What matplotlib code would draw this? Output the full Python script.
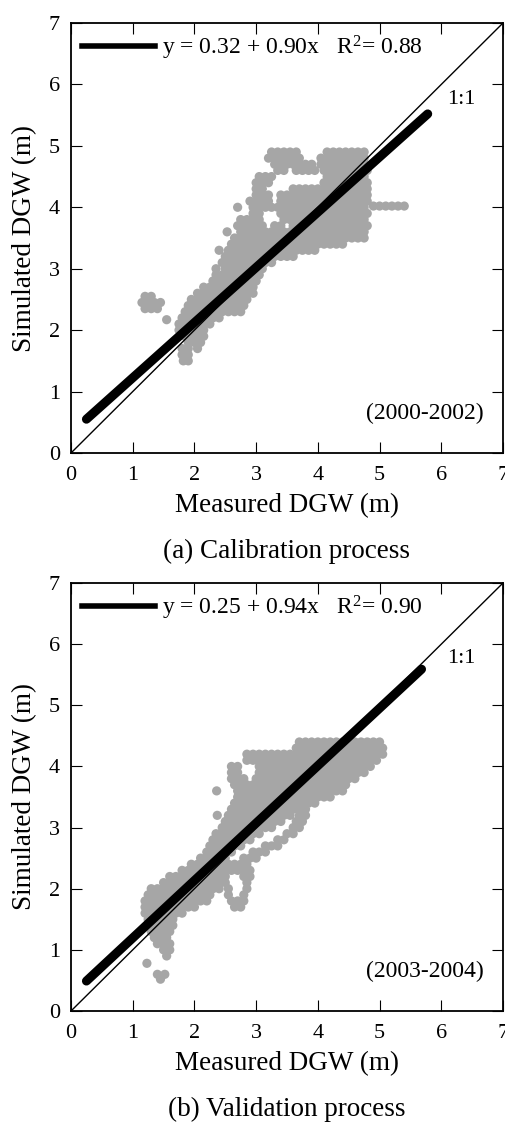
"""Simulated vs measured DGW, calibration (a) and validation (b)."""

import matplotlib
matplotlib.use("Agg")
import matplotlib.pyplot as plt
from matplotlib.lines import Line2D

plt.rcParams['font.family'] = ['Liberation Serif', 'DejaVu Serif']
plt.rcParams['mathtext.fontset'] = 'custom'
plt.rcParams['mathtext.rm'] = 'Liberation Serif'
plt.rcParams['mathtext.it'] = 'Liberation Serif:italic'

# ---- panel (a): calibration 2000-2002, rows of points ----
cal_y = [4.9, 4.8, 4.7, 4.6, 4.5, 4.4, 4.3, 4.2, 4.1, 4.02, 4.0, 3.9, 3.8, 3.7,
         3.6, 3.5, 3.4, 3.3, 3.2, 3.1, 3.0, 2.9, 2.8, 2.7, 2.6, 2.55, 2.5, 2.45,
         2.4, 2.35, 2.3, 2.2, 2.17, 2.1, 2.0, 1.9, 1.8, 1.7, 1.6, 1.5]
cal_x = [
    [3.25, 3.35, 3.45, 3.55, 3.65, 4.15, 4.25, 4.35, 4.45, 4.55, 4.65, 4.75],
    [3.2, 3.3, 3.4, 3.5, 3.6, 3.7, 4.05, 4.15, 4.25, 4.35, 4.45, 4.55, 4.65, 4.75],
    [3.3, 3.4, 3.5, 3.6, 3.7, 3.8, 3.9, 4.05, 4.15, 4.25, 4.35, 4.45, 4.55, 4.65, 4.75],
    [3.35, 3.45, 3.65, 3.75, 3.85, 3.95, 4.1, 4.2, 4.3, 4.4, 4.5, 4.6, 4.7, 4.8],
    [3.05, 3.15, 3.25, 4.15, 4.25, 4.35, 4.45, 4.55, 4.65, 4.75],
    [3.0, 3.1, 3.2, 4.1, 4.2, 4.3, 4.4, 4.5, 4.6, 4.7, 4.8],
    [3.0, 3.1, 3.6, 3.7, 3.8, 3.9, 4.0, 4.1, 4.2, 4.3, 4.4, 4.5, 4.6, 4.7, 4.8],
    [3.0, 3.1, 3.2, 3.4, 3.5, 3.6, 3.7, 3.8, 3.9, 4.0, 4.1, 4.2, 4.3, 4.4, 4.5,
     4.6, 4.7, 4.8],
    [2.9, 3.0, 3.1, 3.2, 3.4, 3.5, 3.6, 3.7, 3.8, 3.9, 4.0, 4.1, 4.2, 4.3, 4.4,
     4.5, 4.6, 4.7, 4.8],
    [4.9, 5.0, 5.1, 5.2, 5.3, 5.4],
    [2.7, 2.95, 3.05, 3.15, 3.25, 3.35, 3.45, 3.55, 3.65, 3.75, 3.85, 3.95, 4.05,
     4.15, 4.25, 4.35, 4.45, 4.55, 4.65, 4.75],
    [2.95, 3.05, 3.4, 3.5, 3.6, 3.7, 3.8, 3.9, 4.0, 4.1, 4.2, 4.3, 4.4, 4.5, 4.6,
     4.7, 4.8],
    [2.75, 2.85, 2.95, 3.05, 3.45, 3.55, 3.65, 3.75, 3.85, 3.95, 4.05, 4.15, 4.25,
     4.35, 4.45, 4.55, 4.65, 4.75],
    [2.7, 2.8, 2.9, 3.0, 3.1, 3.3, 3.4, 3.6, 3.7, 3.8, 3.9, 4.0, 4.1, 4.2, 4.3,
     4.4, 4.5, 4.6, 4.7, 4.8],
    [2.53, 2.75, 2.85, 2.95, 3.05, 3.15, 3.25, 3.35, 3.45, 3.55, 3.65, 3.75, 3.85,
     3.95, 4.05, 4.15, 4.25, 4.35, 4.45, 4.55, 4.65, 4.75],
    [2.65, 2.75, 2.85, 2.95, 3.05, 3.15, 3.25, 3.35, 3.45, 3.55, 3.65, 3.75, 3.85,
     3.95, 4.05, 4.15, 4.25, 4.35, 4.45, 4.55, 4.65, 4.75],
    [2.6, 2.7, 2.8, 2.9, 3.0, 3.1, 3.2, 3.3, 3.4, 3.5, 3.6, 3.7, 3.8, 3.9, 4.0,
     4.1, 4.2, 4.3, 4.4],
    [2.4, 2.55, 2.65, 2.75, 2.85, 2.95, 3.05, 3.15, 3.25, 3.35, 3.45, 3.55, 3.65,
     3.75, 3.85, 3.95],
    [2.5, 2.6, 2.7, 2.8, 2.9, 3.0, 3.1, 3.2, 3.3, 3.4, 3.5, 3.6],
    [2.45, 2.55, 2.65, 2.75, 2.85, 2.95, 3.05, 3.15, 3.25],
    [2.35, 2.5, 2.6, 2.7, 2.8, 2.9, 3.0, 3.1],
    [2.35, 2.45, 2.55, 2.65, 2.75, 2.85, 2.95, 3.05],
    [2.3, 2.4, 2.5, 2.6, 2.7, 2.8, 2.9, 3.0],
    [2.15, 2.25, 2.35, 2.45, 2.55, 2.65, 2.75, 2.85, 2.95],
    [2.05, 2.15, 2.25, 2.35, 2.45, 2.55, 2.65, 2.75, 2.85, 2.95],
    [1.2, 1.3],
    [1.95, 2.05, 2.15, 2.25, 2.35, 2.45, 2.55, 2.65, 2.75, 2.85],
    [1.15, 1.25, 1.35, 1.45],
    [1.9, 2.0, 2.1, 2.2, 2.3, 2.4, 2.5, 2.6, 2.7, 2.8],
    [1.2, 1.3, 1.4],
    [1.85, 1.95, 2.05, 2.15, 2.25, 2.35, 2.45, 2.55, 2.65, 2.75],
    [1.8, 1.9, 2.0, 2.1, 2.2, 2.3, 2.4],
    [1.55],
    [1.75, 1.85, 1.95, 2.05, 2.15, 2.25],
    [1.75, 1.85, 1.95, 2.05, 2.15],
    [1.85, 1.95, 2.05, 2.15],
    [1.9, 2.0, 2.1],
    [1.8, 1.9, 2.05],
    [1.8, 1.9],
    [1.82, 1.9],
]

# ---- panel (b): validation 2003-2004 ----
val_y = [4.4, 4.3, 4.2, 4.1, 4.0, 3.9, 3.8, 3.7, 3.6, 3.5, 3.4, 3.3, 3.2, 3.1,
         3.0, 2.9, 2.8, 2.7, 2.6, 2.5, 2.4, 2.3, 2.2, 2.1, 2.0, 1.9, 1.8, 1.7,
         1.6, 1.5, 1.4, 1.3, 1.2, 1.1, 1.0, 0.9, 0.78, 0.6, 0.52]
val_x = [
    [3.7, 3.8, 3.9, 4.0, 4.1, 4.2, 4.3, 4.4, 4.5, 4.6, 4.7, 4.8, 4.9, 5.0],
    [3.65, 3.75, 3.85, 3.95, 4.05, 4.15, 4.25, 4.35, 4.45, 4.55, 4.65, 4.75, 4.85,
     4.95, 5.05],
    [2.85, 2.95, 3.05, 3.15, 3.25, 3.35, 3.45, 3.55, 3.65, 3.75, 3.85, 3.95, 4.05,
     4.15, 4.25, 4.35, 4.45, 4.55, 4.65, 4.75, 4.85, 4.95, 5.05],
    [2.85, 2.95, 3.05, 3.15, 3.25, 3.35, 3.45, 3.55, 3.65, 3.75, 3.85, 3.95, 4.05,
     4.15, 4.25, 4.35, 4.45, 4.55, 4.65, 4.75, 4.85, 4.95],
    [2.6, 2.7, 3.05, 3.15, 3.25, 3.35, 3.45, 3.55, 3.65, 3.75, 3.85, 3.95, 4.05,
     4.15, 4.25, 4.35, 4.45, 4.55, 4.65, 4.75, 4.85],
    [2.6, 2.7, 3.05, 3.15, 3.25, 3.35, 3.45, 3.55, 3.65, 3.75, 3.85, 3.95, 4.05,
     4.15, 4.25, 4.35, 4.45, 4.55, 4.65, 4.75],
    [2.6, 2.7, 2.8, 3.0, 3.1, 3.2, 3.3, 3.4, 3.5, 3.6, 3.7, 3.8, 3.9, 4.0, 4.1,
     4.2, 4.3, 4.4, 4.5, 4.6],
    [2.65, 2.75, 2.85, 2.95, 3.05, 3.15, 3.25, 3.35, 3.45, 3.55, 3.65, 3.75, 3.85,
     3.95, 4.05, 4.15, 4.25, 4.35, 4.45],
    [2.36, 2.7, 2.8, 2.9, 3.0, 3.1, 3.2, 3.3, 3.4, 3.5, 3.6, 3.7, 3.8, 3.9, 4.0,
     4.1, 4.2, 4.3, 4.4],
    [2.7, 2.8, 2.9, 3.0, 3.1, 3.2, 3.3, 3.4, 3.5, 3.6, 3.7, 3.8, 3.9, 4.0, 4.1,
     4.2],
    [2.65, 2.75, 2.85, 2.95, 3.05, 3.15, 3.25, 3.35, 3.45, 3.55, 3.65, 3.75, 3.85,
     3.95],
    [2.6, 2.7, 2.8, 2.9, 3.0, 3.1, 3.2, 3.3, 3.4, 3.5, 3.6, 3.7, 3.8],
    [2.37, 2.55, 2.65, 2.75, 2.85, 2.95, 3.05, 3.15, 3.25, 3.35, 3.45, 3.55, 3.7,
     3.8],
    [2.5, 2.6, 2.7, 2.8, 2.9, 3.0, 3.1, 3.2, 3.3, 3.4, 3.65, 3.75],
    [2.45, 2.55, 2.65, 2.75, 2.85, 2.95, 3.05, 3.15, 3.25, 3.6, 3.7],
    [2.35, 2.45, 2.55, 2.65, 2.75, 2.85, 2.95, 3.05, 3.5, 3.6],
    [2.3, 2.4, 2.5, 2.6, 2.7, 2.8, 2.9, 3.35, 3.45],
    [2.25, 2.35, 2.45, 2.55, 2.65, 2.75, 3.15, 3.25, 3.35],
    [2.2, 2.3, 2.4, 2.5, 2.6, 2.95, 3.05, 3.15],
    [2.1, 2.2, 2.3, 2.4, 2.5, 2.8, 2.9, 3.0],
    [1.95, 2.05, 2.15, 2.25, 2.35, 2.45, 2.55, 2.65, 2.75, 2.85],
    [1.8, 1.9, 2.0, 2.1, 2.2, 2.3, 2.4, 2.5, 2.6, 2.7, 2.8, 2.9],
    [1.6, 1.7, 1.8, 1.9, 2.0, 2.1, 2.2, 2.3, 2.4, 2.5, 2.8, 2.9],
    [1.5, 1.6, 1.7, 1.8, 1.9, 2.0, 2.1, 2.2, 2.3, 2.4, 2.5, 2.85],
    [1.3, 1.4, 1.5, 1.6, 1.7, 1.8, 1.9, 2.0, 2.1, 2.2, 2.3, 2.4, 2.55, 2.85],
    [1.25, 1.35, 1.45, 1.55, 1.65, 1.75, 1.85, 1.95, 2.05, 2.15, 2.25, 2.55, 2.8],
    [1.2, 1.3, 1.4, 1.5, 1.6, 1.7, 1.8, 1.9, 2.0, 2.1, 2.2, 2.6, 2.7, 2.8],
    [1.2, 1.3, 1.4, 1.5, 1.6, 1.7, 1.8, 1.9, 2.0, 2.65, 2.75],
    [1.2, 1.3, 1.4, 1.5, 1.6, 1.7, 1.8],
    [1.25, 1.35, 1.45, 1.55, 1.65],
    [1.25, 1.35, 1.45, 1.55, 1.65],
    [1.3, 1.4, 1.5, 1.6],
    [1.35, 1.45, 1.55],
    [1.4, 1.5, 1.6],
    [1.5, 1.6],
    [1.55],
    [1.23],
    [1.4, 1.52],
    [1.45],
]

# regression lines (end points as drawn) and labels
fit_a_x, fit_a_y = [0.25, 5.78], [0.55, 5.52]
fit_b_x, fit_b_y = [0.25, 5.68], [0.49, 5.59]
eq_a = "y = 0.32 + 0.90x   R$^2$= 0.88"
eq_b = "y = 0.25 + 0.94x   R$^2$= 0.90"
periods = ["(2000-2002)", "(2003-2004)"]
captions = ["(a) Calibration process", "(b) Validation process"]
ticks = [0, 1, 2, 3, 4, 5, 6, 7]

GREY = '#a6a6a6'
W, H = 506, 1123
fig = plt.figure(figsize=(W / 100, H / 100), dpi=100)


def flatten(rows_y, rows_x):
    xs, ys = [], []
    for y, row in zip(rows_y, rows_x):
        xs.extend(row)
        ys.extend([y] * len(row))
    return xs, ys


def panel(rect, rows_y, rows_x, fx, fy, eq, period, caption):
    ax = fig.add_axes(rect)
    xs, ys = flatten(rows_y, rows_x)
    ax.scatter(xs, ys, s=44, color=GREY, edgecolors='none', zorder=2)
    ax.plot([0, 7], [0, 7], color='k', lw=1.0, zorder=3)
    ax.plot(fx, fy, color='k', lw=6.5, solid_capstyle='round', zorder=4)
    ax.set_xlim(0, 7)
    ax.set_ylim(0, 7)
    ax.set_xticks(ticks)
    ax.set_yticks(ticks)
    ax.tick_params(direction='in', top=True, right=True, length=8, width=0.8,
                   labelsize=16)
    ax.tick_params(axis='x', pad=9)
    ax.tick_params(axis='y', pad=8)
    for sp in ax.spines.values():
        sp.set_linewidth(1.3)
    ax.set_xlabel("Measured DGW (m)", fontsize=19.5)
    ax.set_ylabel("Simulated DGW (m)", fontsize=19.5)
    ax.xaxis.set_label_coords(0.5, -53 / (rect[3] * H))
    ax.xaxis.label.set_va('center')
    ax.yaxis.set_label_coords(-46 / (rect[2] * W), 0.5)
    ax.yaxis.label.set_va('center')
    handle = Line2D([], [], color='k', lw=4)
    ax.legend([handle], [eq], loc='upper left', bbox_to_anchor=(0.025, 0.975),
              frameon=False, fontsize=17, handlelength=3.1, handletextpad=0.3,
              borderpad=0, borderaxespad=0)
    ax.text(6.32, 5.76, "1:1", ha='center', va='center', fontsize=16)
    ax.text(6.68, 0.64, period, ha='right', va='center', fontsize=17)
    bottom_px = H * (1 - rect[1])
    fig.text(0.5 * (rect[0] * 2 + rect[2]), 1 - (bottom_px + 98) / H, caption,
             ha='center', va='center', fontsize=19.5)
    return ax


panel([71 / W, 1 - 453 / H, 432 / W, 430 / H], cal_y, cal_x,
      fit_a_x, fit_a_y, eq_a, periods[0], captions[0])
panel([71 / W, 1 - 1011 / H, 432 / W, 428 / H], val_y, val_x,
      fit_b_x, fit_b_y, eq_b, periods[1], captions[1])

fig.savefig("out.png", dpi=100)
